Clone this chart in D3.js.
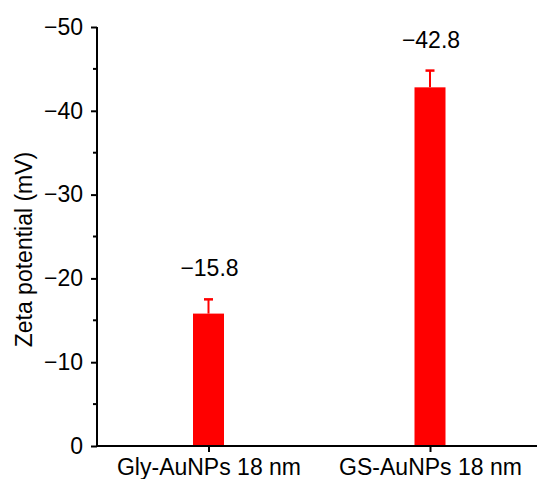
<!DOCTYPE html>
<meta charset="utf-8">
<style>
body { margin: 0; background: #fff; }
text { font-family: "Liberation Sans", Arial, sans-serif; fill: #000; }
</style>
<svg width="537" height="479"></svg>
<script src="https://d3js.org/d3.v7.min.js"></script>
<script>

// data
var categories = ["Gly-AuNPs 18 nm", "GS-AuNPs 18 nm"];
var values = [-15.8, -42.8];
var errors = [1.7, 2.0];
var yTicks = [0, -10, -20, -30, -40, -50];

var svg = d3.select("svg"),
    margin = {left: 97, right: 0, top: 27, bottom: 33},
    width = +svg.attr("width"),
    height = +svg.attr("height");

var x = d3.scalePoint()
    .domain(categories)
    .range([208.5, 430]);

// negative values plotted upward
var y = d3.scaleLinear()
    .domain([0, -50])
    .range([height - margin.bottom, margin.top]);

var barW = 31;
var red = "#ff0000";
var fs = "23px";

// bars
svg.selectAll(".bar")
  .data(values)
  .enter().append("rect")
    .attr("class", "bar")
    .attr("x", function(d, i) { return x(categories[i]) - barW / 2; })
    .attr("y", function(d) { return y(d); })
    .attr("width", barW)
    .attr("height", function(d) { return y(0) - y(d); })
    .style("fill", red);

// error bars (upper half only)
var err = svg.selectAll(".err")
  .data(values)
  .enter().append("g");

err.append("line")
    .attr("x1", function(d, i) { return x(categories[i]); })
    .attr("x2", function(d, i) { return x(categories[i]); })
    .attr("y1", function(d) { return y(d); })
    .attr("y2", function(d, i) { return y(d - errors[i]); })
    .style("stroke", red)
    .style("stroke-width", 2);

err.append("line")
    .attr("x1", function(d, i) { return x(categories[i]) - 4.5; })
    .attr("x2", function(d, i) { return x(categories[i]) + 4.5; })
    .attr("y1", function(d, i) { return y(d - errors[i]); })
    .attr("y2", function(d, i) { return y(d - errors[i]); })
    .style("stroke", red)
    .style("stroke-width", 2.5);

// value labels
svg.selectAll(".val")
  .data(values)
  .enter().append("text")
    .attr("x", function(d, i) { return x(categories[i]) + 1; })
    .attr("y", function(d, i) { return y(d - errors[i]) - 23; })
    .attr("text-anchor", "middle")
    .style("font-size", fs)
    .text(function(d) { return d3.format(".1f")(d).replace("-", "\u2212"); });

// y axis
var yAxis = d3.axisLeft(y)
    .tickValues(yTicks)
    .tickSize(6)
    .tickPadding(8)
    .tickFormat(function(d) { return d === 0 ? "0" : "\u2212" + Math.abs(d); });

var gy = svg.append("g")
    .attr("transform", "translate(" + margin.left + ",0)")
    .call(yAxis);
gy.select(".domain").remove();
gy.append("line")
    .attr("y1", y(0) + 1)
    .attr("y2", y(-50))
    .style("stroke", "#000")
    .style("stroke-width", 2);
gy.selectAll(".tick line").style("stroke-width", 2);
gy.selectAll(".tick text").style("font-size", fs);

// minor ticks
gy.selectAll(".minor")
  .data(d3.range(-5, -50, -10))
  .enter().append("line")
    .attr("x1", -4).attr("x2", 0)
    .attr("y1", function(d) { return y(d); })
    .attr("y2", function(d) { return y(d); })
    .style("stroke", "#000")
    .style("stroke-width", 2);

// x axis
var xAxis = d3.axisBottom(x).tickSize(6).tickPadding(7);
var gx = svg.append("g")
    .attr("transform", "translate(0," + y(0) + ")")
    .call(xAxis);
gx.select(".domain").remove();
gx.append("line")
    .attr("x1", margin.left)
    .attr("x2", width)
    .style("stroke", "#000")
    .style("stroke-width", 2);
gx.selectAll(".tick line").style("stroke-width", 2);
gx.selectAll(".tick text").style("font-size", fs);

// axis title
svg.append("text")
    .attr("transform", "translate(32," + (y(-25) + 13) + ") rotate(-90)")
    .attr("text-anchor", "middle")
    .style("font-size", fs)
    .text("Zeta potential (mV)");

</script>
